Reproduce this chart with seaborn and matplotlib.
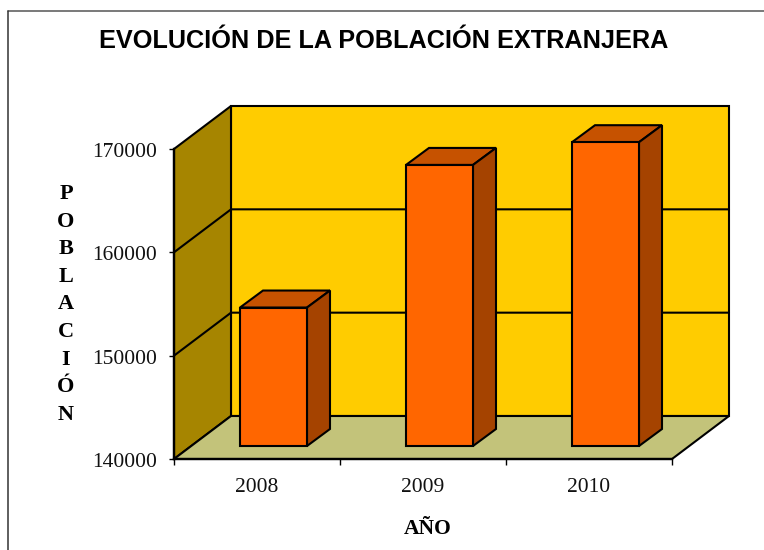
import pandas as pd
import matplotlib
matplotlib.use('Agg')
import matplotlib.pyplot as plt
from matplotlib.lines import Line2D
from matplotlib.patches import Polygon
from matplotlib.transforms import ScaledTranslation
import seaborn as sns

# Values
years = ['2008', '2009', '2010']
poblacion = [153400, 167200, 169400]
y_ticks = [140000, 150000, 160000, 170000]

titulo = 'EVOLUCIÓN DE LA POBLACIÓN EXTRANJERA'
y_label = 'P\nO\nB\nL\nA\nC\nI\nÓ\nN'
x_label = 'AÑO'

# Colours
back_col = '#FFCC00'
left_col = '#A68500'
floor_col = '#C3C37A'
bar_col = '#FF6600'
top_col = '#C65200'
side_col = '#A54300'

sns.set_style('white')
W, H = 764, 550
fig = plt.figure(figsize=(W / 100, H / 100), dpi=100)


def px_axes(left, right, top, bottom):
    """Axes placed by its pixel box in the picture"""
    return fig.add_axes([left / W, 1 - bottom / H, (right - left) / W, (bottom - top) / H])


# Frame axes = front plane of the fake 3D box
ax = px_axes(174, 672, 149, 459)
ymin, ymax = y_ticks[0], y_ticks[-1]
xmin, xmax = -0.5, 2.5
px_x = (xmax - xmin) / (672 - 174)
px_y = (ymax - ymin) / (459 - 149)
ax.set_xlim(xmin, xmax)
ax.set_ylim(ymin, ymax)
lw = 1.5

# depth of the box
dx, dy = 57 * px_x, 43 * px_y


def poly(axis, pts, col, z=1):
    axis.add_patch(Polygon(pts, closed=True, facecolor=col, edgecolor='black',
                           linewidth=lw, joinstyle='miter', clip_on=False, zorder=z))


poly(ax, [(xmin + dx, ymin + dy), (xmax + dx, ymin + dy), (xmax + dx, ymax + dy), (xmin + dx, ymax + dy)], back_col)
poly(ax, [(xmin, ymin), (xmin + dx, ymin + dy), (xmin + dx, ymax + dy), (xmin, ymax)], left_col)
poly(ax, [(xmin, ymin), (xmax, ymin), (xmax + dx, ymin + dy), (xmin + dx, ymin + dy)], floor_col)

# gridlines run along left wall and back wall
for t in y_ticks[1:-1]:
    ax.plot([xmin, xmin + dx, xmax + dx], [t, t + dy, t + dy], color='black', lw=lw,
            clip_on=False, zorder=2, solid_joinstyle='miter')

sns.despine(ax=ax, top=True, right=True)
for s in ['left', 'bottom']:
    ax.spines[s].set_color('black')
    ax.spines[s].set_linewidth(lw + 0.2)
    ax.spines[s].set_zorder(3)

ax.set_yticks(y_ticks)
ax.set_yticklabels([str(t) for t in y_ticks], fontsize=15.5, family='Liberation Serif')
ax.set_xticks(range(len(years)))
ax.set_xticklabels(years, fontsize=15.5, family='Liberation Serif')
ax.set_xticks([xmin + i for i in range(len(years) + 1)], minor=True)
ax.tick_params(axis='x', which='major', length=0, pad=14, labelcolor='#111111')
ax.tick_params(axis='x', which='minor', bottom=True, length=4.5, width=1, color='black')
ax.tick_params(axis='y', left=True, length=3.5, width=1, color='black', pad=9, labelcolor='#111111')

# y labels sit a little under their ticks
nudge = ScaledTranslation(0, -1 / 100, fig.dpi_scale_trans)
for lab in ax.get_yticklabels():
    lab.set_transform(lab.get_transform() + nudge)

# Bars axes = same scales, shifted into the box
ax_b = px_axes(174 + 16.5, 672 + 16.5, 149 - 13, 459 - 13)
df = pd.DataFrame({'year': years, 'poblacion': poblacion})
sns.barplot(data=df, x='year', y='poblacion', order=years, ax=ax_b, color=bar_col,
            saturation=1, width=67 / 166, edgecolor='black', linewidth=lw)
ax_b.set_xlim(xmin, xmax)
ax_b.set_ylim(ymin, ymax)
ax_b.axis('off')
ax_b.patch.set_alpha(0)

bx, by = 23 * px_x, 17 * px_y
for p in list(ax_b.patches):
    top = p.get_height()
    p.set_y(ymin)
    p.set_height(top - ymin)
    p.set_clip_on(False)
    p.set_zorder(5)
    x0, x1 = p.get_x(), p.get_x() + p.get_width()
    poly(ax_b, [(x0, top), (x1, top), (x1 + bx, top + by), (x0 + bx, top + by)], top_col, 4)
    poly(ax_b, [(x1, ymin), (x1 + bx, ymin + by), (x1 + bx, top + by), (x1, top)], side_col, 4)

# Texts
fig.text(383.5 / W, 1 - 41 / H, titulo, ha='center', va='center', fontsize=18.2,
         fontweight='bold', family='Liberation Sans', color='black')
fig.text(66 / W, 1 - 304.5 / H, y_label, ha='center', va='center', fontsize=16,
         fontweight='bold', family='Liberation Serif', linespacing=1.51, color='black')
fig.text(427.5 / W, 1 - 529 / H, x_label, ha='center', va='center', fontsize=15.5,
         fontweight='bold', family='Liberation Serif', color='black')

# Border of the page, only top and left can be seen
fig.add_artist(Line2D([7.5 / W, 1], [1 - 10.5 / H, 1 - 10.5 / H], color='#555555', lw=1.1))
fig.add_artist(Line2D([7.5 / W, 7.5 / W], [0, 1 - 10.5 / H], color='#333333', lw=1.1))

fig.savefig('out.png', dpi=100)
